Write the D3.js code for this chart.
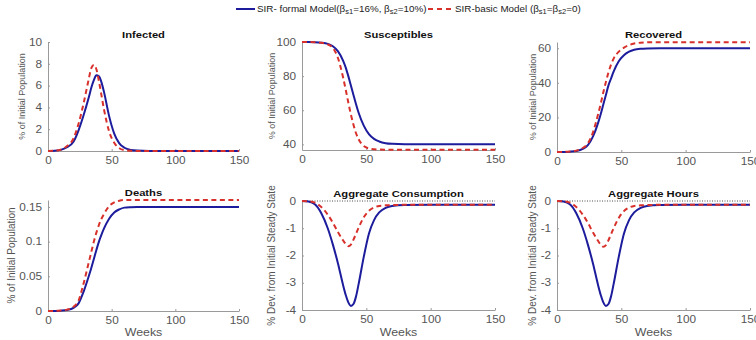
<!DOCTYPE html>
<html>
<head>
<meta charset="utf-8">
<script src="https://d3js.org/d3.v7.min.js"></script>
<style>
  body { margin: 0; background: #fff; }
  text { font-family: "Liberation Sans", Arial, sans-serif; }
</style>
</head>
<body>
<div id="chart"></div>
<script>
var weeks = [0, 5, 10, 15, 20, 24, 28, 32, 34, 36, 38, 40, 42, 44, 48, 52, 56, 60, 65, 70, 80, 100, 125, 150];

// SIR formal model (blue) and SIR basic model (red dashed)
var infectedFormal = [0, 0.02, 0.1, 0.35, 0.85, 1.9, 3.3, 4.9, 5.8, 6.5, 6.95, 6.85, 6.3, 5.4, 3.2, 1.6, 0.7, 0.3, 0.1, 0.04, 0.01, 0, 0, 0];
var infectedBasic  = [0, 0.02, 0.12, 0.45, 1.15, 2.5, 4.4, 6.6, 7.6, 7.9, 7.5, 6.4, 5.1, 3.8, 1.8, 0.75, 0.25, 0.08, 0.02, 0, 0, 0, 0, 0];

var suscFormal = [100, 100, 99.9, 99.6, 98.9, 97.5, 94.5, 89, 85, 80, 74.5, 69, 63.5, 58.5, 51, 46, 43.2, 41.7, 40.7, 40.3, 40.05, 40, 40, 40];
var suscBasic  = [100, 100, 99.9, 99.5, 98.6, 96.5, 90.5, 79, 72, 64.5, 57.5, 51.5, 46.5, 43, 39, 37.6, 37.1, 36.95, 36.9, 36.9, 36.9, 36.9, 36.9, 36.9];

var recFormal = [0, 0.05, 0.2, 0.6, 1.8, 4, 9, 17, 22, 27.5, 33, 38.5, 42.5, 46.5, 52.5, 56, 58, 59.1, 59.7, 59.9, 60, 60, 60, 60];
var recBasic  = [0, 0.05, 0.25, 0.8, 2.3, 5, 11.5, 22, 28, 34.5, 40.5, 46, 50.5, 54, 58, 60.3, 61.8, 62.7, 63.2, 63.4, 63.5, 63.5, 63.5, 63.5];

var deathsFormal = [0, 0.0001, 0.0005, 0.0015, 0.0045, 0.011, 0.028, 0.05, 0.062, 0.075, 0.088, 0.1, 0.11, 0.119, 0.133, 0.142, 0.1465, 0.149, 0.1497, 0.15, 0.15, 0.15, 0.15, 0.15];
var deathsBasic  = [0, 0.0001, 0.0006, 0.002, 0.006, 0.015, 0.04, 0.07, 0.085, 0.1, 0.113, 0.124, 0.133, 0.14, 0.151, 0.1565, 0.159, 0.16, 0.16, 0.16, 0.16, 0.16, 0.16, 0.16];

var consFormal = [0, -0.02, -0.12, -0.45, -1.0, -1.6, -2.3, -3.1, -3.45, -3.72, -3.85, -3.78, -3.5, -3.05, -2.05, -1.2, -0.7, -0.42, -0.25, -0.18, -0.15, -0.14, -0.14, -0.14];
var consBasic  = [0, -0.01, -0.06, -0.22, -0.5, -0.8, -1.15, -1.45, -1.58, -1.66, -1.6, -1.42, -1.2, -0.98, -0.6, -0.36, -0.24, -0.18, -0.16, -0.15, -0.14, -0.14, -0.14, -0.14];

var hoursFormal = [0, -0.02, -0.12, -0.45, -1.0, -1.6, -2.3, -3.1, -3.45, -3.72, -3.85, -3.78, -3.5, -3.05, -2.05, -1.2, -0.7, -0.42, -0.25, -0.18, -0.15, -0.14, -0.14, -0.14];
var hoursBasic  = [0, -0.01, -0.06, -0.22, -0.5, -0.8, -1.16, -1.47, -1.6, -1.68, -1.62, -1.44, -1.22, -1.0, -0.62, -0.37, -0.24, -0.18, -0.16, -0.15, -0.14, -0.14, -0.14, -0.14];

var xTicks = [0, 50, 100, 150];

var panels = [
  {title: 'Infected', formal: infectedFormal, basic: infectedBasic, domain: [0, 10], ticks: [0, 2, 4, 6, 8, 10],
   ylabel: '% of Initial Population', box: [48, 239, 42, 151], labelOff: 26, labelSize: 9},
  {title: 'Susceptibles', formal: suscFormal, basic: suscBasic, domain: [36.7, 100], ticks: [40, 60, 80, 100],
   ylabel: '% of Initial Population', box: [302, 495, 42, 150], labelOff: 30, labelSize: 9},
  {title: 'Recovered', formal: recFormal, basic: recBasic, domain: [0, 63.6], ticks: [0, 20, 40, 60],
   ylabel: '% of Initial Population', box: [557, 750, 42, 152], labelOff: 24, labelSize: 9},
  {title: 'Deaths', formal: deathsFormal, basic: deathsBasic, domain: [0, 0.16], ticks: [0, 0.05, 0.1, 0.15],
   ylabel: '% of Initial Population', box: [48, 239, 200, 311], labelOff: 36, labelSize: 10, weeks: true},
  {title: 'Aggregate Consumption', formal: consFormal, basic: consBasic, domain: [-4, 0], ticks: [-4, -3, -2, -1, 0],
   ylabel: '% Dev. from Initial Steady State', box: [302, 495, 201, 310], labelOff: 30, labelSize: 10, weeks: true, zero: true},
  {title: 'Aggregate Hours', formal: hoursFormal, basic: hoursBasic, domain: [-4, 0], ticks: [-4, -3, -2, -1, 0],
   ylabel: '% Dev. from Initial Steady State', box: [557, 750, 201, 310], labelOff: 24, labelSize: 10, weeks: true, zero: true}
];

var W = 756, H = 340;
var blue = '#1c1c9c', red = '#d8312b';
var stretch = 'scale(1.18,1)';

var svg = d3.select('#chart').append('svg')
    .attr('width', W)
    .attr('height', H);

panels.forEach(function(p) {
  var x = d3.scaleLinear().domain([0, 150]).range([p.box[0], p.box[1]]);
  var y = d3.scaleLinear().domain(p.domain).range([p.box[3], p.box[2]]);
  var g = svg.append('g');

  var xAxis = g.append('g')
      .attr('transform', 'translate(0,' + p.box[3] + ')')
      .call(d3.axisBottom(x).tickValues(xTicks).tickSizeInner(-2).tickSizeOuter(0).tickPadding(6));
  var yAxis = g.append('g')
      .attr('transform', 'translate(' + p.box[0] + ',0)')
      .call(d3.axisLeft(y).tickValues(p.ticks).tickSizeInner(-2).tickSizeOuter(0).tickPadding(5)
            .tickFormat(function(d) { return String(d); }));

  [xAxis, yAxis].forEach(function(a) {
    a.select('.domain').attr('stroke', '#9a9a9a');
    a.selectAll('.tick line').attr('stroke', '#9a9a9a');
    a.selectAll('.tick text')
      .attr('fill', '#555')
      .style('font-size', '10px')
      .style('font-family', '"Liberation Sans", Arial, sans-serif')
      .attr('transform', stretch);
  });

  if (p.zero) {
    g.append('line')
      .attr('x1', x(0)).attr('x2', x(150))
      .attr('y1', y(0)).attr('y2', y(0))
      .attr('stroke', '#222')
      .attr('stroke-width', 0.8)
      .attr('stroke-dasharray', '1,1.5');
  }

  var line = d3.line()
      .x(function(d, i) { return x(weeks[i]); })
      .y(function(d) { return y(d); })
      .curve(d3.curveMonotoneX);

  g.append('path')
    .datum(p.formal)
    .attr('d', line)
    .attr('fill', 'none')
    .attr('stroke', blue)
    .attr('stroke-width', 2);

  g.append('path')
    .datum(p.basic)
    .attr('d', line)
    .attr('fill', 'none')
    .attr('stroke', red)
    .attr('stroke-width', 2)
    .attr('stroke-dasharray', '5,3.5');

  var cx = (p.box[0] + p.box[1]) / 2;
  g.append('text')
    .attr('transform', 'translate(' + cx + ',' + (p.box[2] - 4) + ') ' + stretch)
    .attr('text-anchor', 'middle')
    .style('font-size', '9.5px')
    .style('font-weight', 'bold')
    .attr('fill', '#111')
    .text(p.title);

  g.append('text')
    .attr('transform', 'translate(' + (p.box[0] - p.labelOff + 3) + ',' + ((p.box[2] + p.box[3]) / 2) + ') rotate(-90)')
    .attr('text-anchor', 'middle')
    .style('font-size', p.labelSize + 'px')
    .attr('fill', '#555')
    .text(p.ylabel);

  if (p.weeks) {
    g.append('text')
      .attr('transform', 'translate(' + cx + ',336) ' + stretch)
      .attr('text-anchor', 'middle')
      .style('font-size', '10.5px')
      .attr('fill', '#555')
      .text('Weeks');
  }
});

// legend
var leg = svg.append('g');
leg.append('line')
  .attr('x1', 236).attr('x2', 255).attr('y1', 9).attr('y2', 9)
  .attr('stroke', blue).attr('stroke-width', 2);
leg.append('line')
  .attr('x1', 428).attr('x2', 453).attr('y1', 9).attr('y2', 9)
  .attr('stroke', red).attr('stroke-width', 2).attr('stroke-dasharray', '5,4');

function legendText(xPos, parts) {
  var t = leg.append('text')
    .attr('transform', 'translate(' + xPos + ',12) scale(1.16,1)')
    .style('font-size', '8.5px')
    .attr('fill', '#222');
  parts.forEach(function(pt) {
    var s = t.append('tspan').text(pt[0]);
    if (pt[1] === 'sub') s.style('font-size', '6.5px').attr('dy', 2);
    if (pt[1] === 'up') s.attr('dy', -2);
  });
}
legendText(257, [['SIR- formal Model(β'], ['s1', 'sub'], ['=16%, β', 'up'], ['s2', 'sub'], ['=10%)', 'up']]);
legendText(455, [['SIR-basic Model (β'], ['s1', 'sub'], ['=β', 'up'], ['s2', 'sub'], ['=0)', 'up']]);
</script>
</body>
</html>
